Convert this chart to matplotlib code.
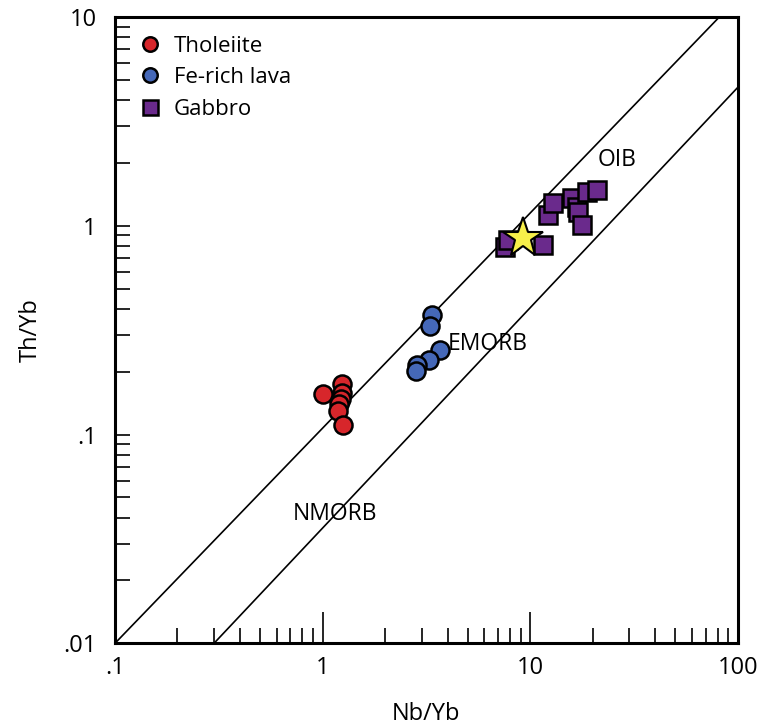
import numpy as np
import matplotlib.pyplot as plt
from matplotlib.ticker import FixedLocator, FixedFormatter, LogLocator, NullFormatter

plt.rcParams['font.family'] = ['Open Sans', 'DejaVu Sans']

# data
thol_nb = [1.01, 1.24, 1.24, 1.23, 1.20, 1.19, 1.26]
thol_th = [0.157, 0.175, 0.158, 0.148, 0.140, 0.130, 0.111]

fe_nb = [3.35, 3.31, 3.68, 3.27, 2.84, 2.83]
fe_th = [0.374, 0.331, 0.254, 0.228, 0.216, 0.202]

gab_nb = [7.56, 7.84, 11.56, 12.2, 12.9, 15.85, 16.8, 17.05, 17.7, 18.7, 20.9]
gab_th = [0.795, 0.856, 0.81, 1.128, 1.283, 1.356, 1.236, 1.17, 1.01, 1.458, 1.486]

star_nb = [9.26]
star_th = [0.872]

# reference lines (end points)
upper_nb = [0.1, 81.5]
upper_th = [0.01, 10]
lower_nb = [0.3, 100]
lower_th = [0.01, 4.6]

labels = [('OIB', 21.2, 2.07), ('EMORB', 4.02, 0.272), ('NMORB', 0.72, 0.0416)]

fig = plt.figure(figsize=(7.59, 7.25), dpi=100)
ax = fig.add_axes([0.1515, 0.1127, 0.8204, 0.8637])

ax.plot(upper_nb, upper_th, color='black', lw=1.2, zorder=1)
ax.plot(lower_nb, lower_th, color='black', lw=1.2, zorder=1)

ax.plot(thol_nb, thol_th, 'o', ms=13, mfc='#d7262b', mec='black', mew=1.8,
        label='Tholeiite', zorder=3)
ax.plot(fe_nb, fe_th, 'o', ms=13, mfc='#4568b8', mec='black', mew=1.8,
        label='Fe-rich lava', zorder=3)
ax.plot(gab_nb, gab_th, 's', ms=13.5, mfc='#6a2a8c', mec='black', mew=1.8,
        label='Gabbro', zorder=3)
ax.plot(star_nb, star_th, '*', ms=30, mfc='#f7ef4a', mec='black', mew=1.5,
        zorder=4)

for txt, x, y in labels:
    ax.text(x, y, txt, fontsize=16.5, ha='left', va='center')

ax.set_xscale('log')
ax.set_yscale('log')
ax.set_xlim(0.1, 100)
ax.set_ylim(0.01, 10)

ax.xaxis.set_major_locator(FixedLocator([0.1, 1, 10, 100]))
ax.xaxis.set_major_formatter(FixedFormatter(['.1', '1', '10', '100']))
ax.yaxis.set_major_locator(FixedLocator([0.01, 0.1, 1, 10]))
ax.yaxis.set_major_formatter(FixedFormatter(['.01', '.1', '1', '10']))
ax.xaxis.set_minor_locator(LogLocator(base=10, subs=np.arange(2, 10)))
ax.yaxis.set_minor_locator(LogLocator(base=10, subs=np.arange(2, 10)))
ax.xaxis.set_minor_formatter(NullFormatter())
ax.yaxis.set_minor_formatter(NullFormatter())

ax.tick_params(axis='x', which='major', direction='in', length=22, width=1.2,
               labelsize=17, pad=9)
ax.tick_params(axis='x', which='minor', direction='in', length=11, width=1.2)
ax.tick_params(axis='y', which='both', direction='in', length=11, width=1.2,
               labelsize=17, pad=13)

for s in ax.spines.values():
    s.set_linewidth(2.2)

ax.set_xlabel('Nb/Yb', fontsize=17, labelpad=16)
ax.set_ylabel('Th/Yb', fontsize=17, labelpad=15)

ax.legend(loc='upper left', frameon=False, fontsize=16, markerscale=0.8,
          handlelength=1.0, handletextpad=0.55, labelspacing=0.47,
          borderaxespad=0.3, bbox_to_anchor=(0.014, 0.995))

fig.savefig('out.png', dpi=100)
